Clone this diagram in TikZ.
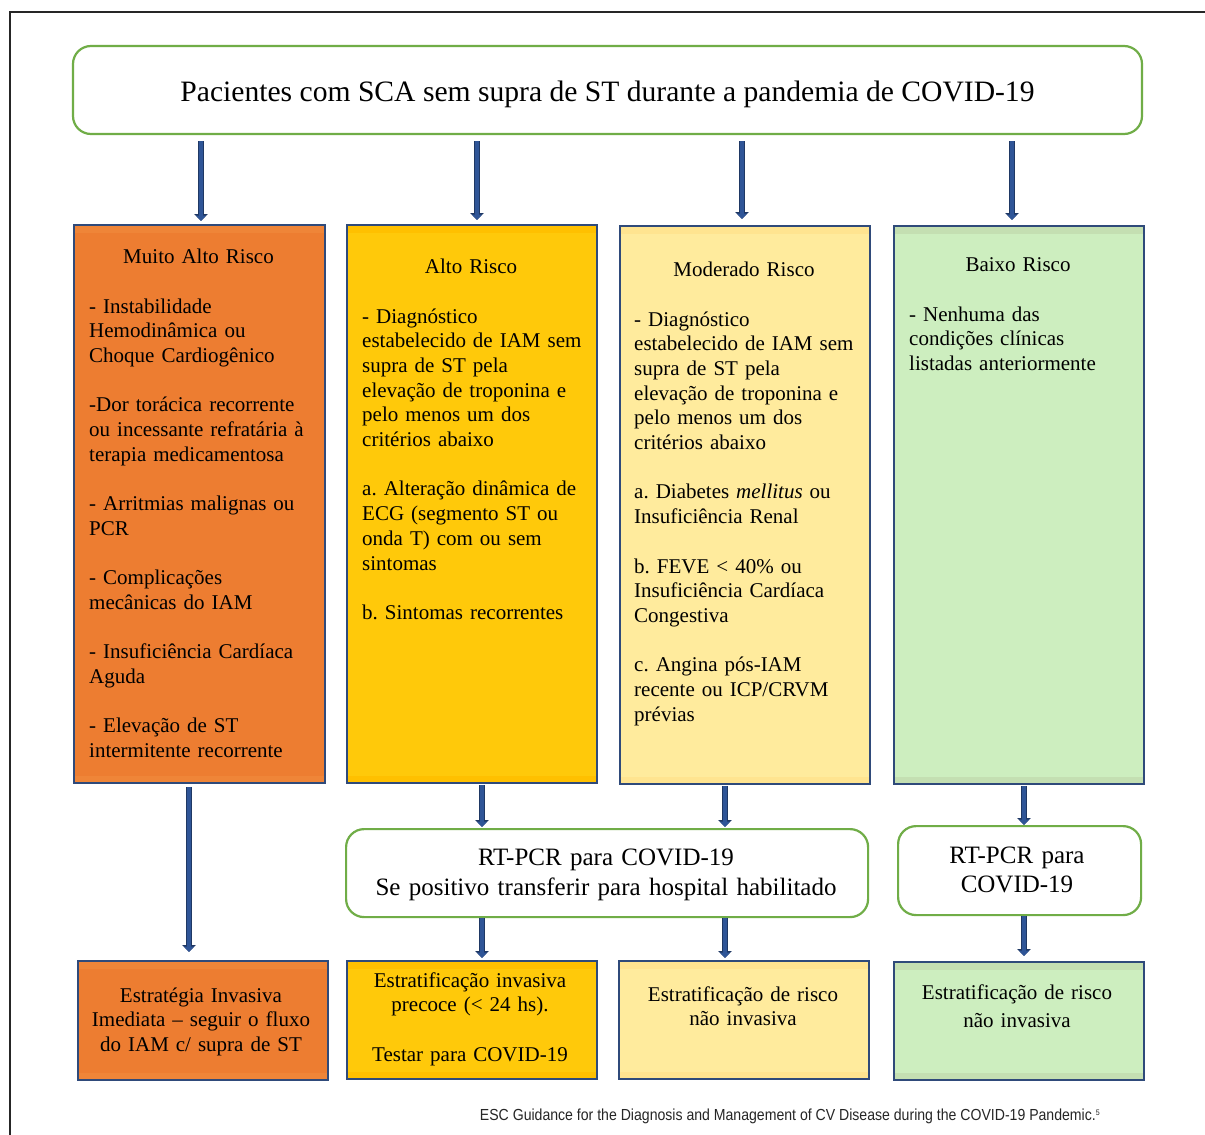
\documentclass[tikz,border=0pt]{standalone}
\usepackage{fontspec}
\setmainfont{Liberation Serif}
\newfontfamily\notefont[FakeStretch=0.88]{Liberation Sans}
\usetikzlibrary{arrows.meta}

\definecolor{frameC}{HTML}{262626}
\definecolor{leafGreen}{HTML}{70AD47}
\definecolor{navyEdge}{HTML}{2F4A7A}
\definecolor{arrowFill}{HTML}{2F5597}
\definecolor{arrowEdge}{HTML}{1F3864}
\definecolor{orangeC}{HTML}{ED7D31}
\definecolor{orangeB}{HTML}{EF8538}
\definecolor{goldC}{HTML}{FFC90A}
\definecolor{goldB}{HTML}{FFC000}
\definecolor{creamC}{HTML}{FFEB9D}
\definecolor{creamB}{HTML}{FFE490}
\definecolor{mintC}{HTML}{CDEEBF}
\definecolor{mintB}{HTML}{C4DFB2}

\begin{document}
\frenchspacing
\begin{tikzpicture}[x=1pt,y=-1pt,
  flowbox/.style={draw=leafGreen, line width=2.2pt, rounded corners=18pt, fill=white, inner sep=0pt},
  riskbox/.style={draw=navyEdge, line width=1.8pt, inner sep=0pt, anchor=north west},
  band/.style={path picture={
      \fill[#1] (path picture bounding box.north west) rectangle ([yshift=-8pt]path picture bounding box.north east);
      \fill[#1] (path picture bounding box.south west) rectangle ([yshift=7pt]path picture bounding box.south east);}},
  body/.style={font=\fontsize{21}{24.7}\selectfont, inner sep=0pt, align=left, anchor=base west},
  mid/.style={font=\fontsize{21}{24.7}\selectfont, inner sep=0pt, align=center, anchor=base},
  big/.style={font=\fontsize{25}{30}\selectfont, inner sep=0pt, align=center, anchor=base},
  flow/.style={draw=arrowFill, line width=3.4pt, -{Triangle[length=5.5pt,width=10pt]},
    preaction={draw=arrowEdge, line width=6pt, -{Triangle[length=7pt,width=13.5pt]}}}
]
\useasboundingbox (0,0) rectangle (1205,1135);
\fill[white] (0,0) rectangle (1205,1135);

% outer frame
\draw[frameC, line width=1.5pt] (10,1140) -- (10,12) -- (1210,12);

% header
\node[flowbox, minimum width=1069pt, minimum height=88pt] (title) at (607.5,90) {};
\node[font=\fontsize{29.6}{34}\selectfont, inner sep=0pt, anchor=base] (titletxt) at (607.5,101)
  {Pacientes com SCA sem supra de ST durante a pandemia de COVID-19};

% risk columns
\node[riskbox, fill=orangeC, band=orangeB, minimum width=251pt, minimum height=558pt] (c1) at (73,224) {};
\node[riskbox, fill=goldC,   band=goldB,   minimum width=250pt, minimum height=558pt] (c2) at (346,224) {};
\node[riskbox, fill=creamC,  band=creamB,  minimum width=250pt, minimum height=558pt] (c3) at (619,225) {};
\node[riskbox, fill=mintC,   band=mintB,   minimum width=250pt, minimum height=558pt] (c4) at (893,225) {};

\node[mid, text width=240pt] (h1) at (198.5,263) {Muito Alto Risco};
\node[body, text width=232pt] (t1) at (89,313) {- Instabilidade\\ Hemodinâmica ou\\ Choque Cardiogênico\\[24.7pt]
  -Dor torácica recorrente\\ ou incessante refratária à\\ terapia medicamentosa\\[24.7pt]
  - Arritmias malignas ou\\ PCR\\[24.7pt]
  - Complicações\\ mecânicas do IAM\\[24.7pt]
  - Insuficiência Cardíaca\\ Aguda\\[24.7pt]
  - Elevação de ST\\ intermitente recorrente};

\node[mid, text width=240pt] (h2) at (471,273) {Alto Risco};
\node[body, text width=232pt] (t2) at (362,323) {- Diagnóstico\\ estabelecido de IAM sem\\ supra de ST pela\\ elevação de troponina e\\ pelo menos um dos\\ critérios abaixo\\[24.7pt]
  a. Alteração dinâmica de\\ ECG (segmento ST ou\\ onda T) com ou sem\\ sintomas\\[24.7pt]
  b. Sintomas recorrentes};

\node[mid, text width=240pt] (h3) at (744,276) {Moderado Risco};
\node[body, text width=232pt] (t3) at (634,326) {- Diagnóstico\\ estabelecido de IAM sem\\ supra de ST pela\\ elevação de troponina e\\ pelo menos um dos\\ critérios abaixo\\[24.7pt]
  a. Diabetes \textit{mellitus} ou\\ Insuficiência Renal\\[24.7pt]
  b. FEVE < 40\% ou\\ Insuficiência Cardíaca\\ Congestiva\\[24.7pt]
  c. Angina pós-IAM\\ recente ou ICP/CRVM\\ prévias};

\node[mid, text width=240pt] (h4) at (1018,271) {Baixo Risco};
\node[body, text width=232pt] (t4) at (909,321) {- Nenhuma das\\ condições clínicas\\ listadas anteriormente};

% RT-PCR boxes
\node[flowbox, minimum width=522pt, minimum height=88pt, anchor=north west] (rt1) at (345,828) {};
\node[big, text width=520pt] (rt1txt) at (606,865) {RT-PCR para COVID-19\\ Se positivo transferir para hospital habilitado};
\node[flowbox, minimum width=243pt, minimum height=89pt, anchor=north west] (rt2) at (897,825) {};
\node[big, text width=240pt, font=\fontsize{25}{29}\selectfont] (rt2txt) at (1017,863) {RT-PCR para\\ COVID-19};

% outcome boxes
\node[riskbox, fill=orangeC, band=orangeB, minimum width=250pt, minimum height=119pt] (b1) at (77,960) {};
\node[riskbox, fill=goldC,   band=goldB,   minimum width=250pt, minimum height=118pt] (b2) at (346,960) {};
\node[riskbox, fill=creamC,  band=creamB,  minimum width=250pt, minimum height=118pt] (b3) at (618,960) {};
\node[riskbox, fill=mintC,   band=mintB,   minimum width=250pt, minimum height=118pt] (b4) at (893,961) {};

\node[mid, text width=245pt] (o1) at (201,1002) {Estratégia Invasiva\\ Imediata – seguir o fluxo\\ do IAM c/ supra de ST};
\node[mid, text width=245pt] (o2) at (470,987) {Estratificação invasiva\\ precoce (< 24 hs).\\[24.7pt] Testar para COVID-19};
\node[mid, text width=245pt] (o3) at (743,1001) {Estratificação de risco\\ não invasiva};
\node[mid, text width=245pt, font=\fontsize{21}{28}\selectfont] (o4) at (1017,999) {Estratificação de risco\\ não invasiva};

% arrow columns
\coordinate (xa) at (201,0);
\coordinate (xb) at (477,0);
\coordinate (xc) at (742,0);
\coordinate (xd) at (1012,0);
\coordinate (xe) at (189,0);
\coordinate (xf) at (482,0);
\coordinate (xg) at (725,0);
\coordinate (xh) at (1024,0);

\draw[flow, shorten <=6pt, shorten >=3pt] (title.south -| xa) -- (c1.north -| xa);
\draw[flow, shorten <=6pt, shorten >=4pt] (title.south -| xb) -- (c2.north -| xb);
\draw[flow, shorten <=6pt, shorten >=6pt] (title.south -| xc) -- (c3.north -| xc);
\draw[flow, shorten <=6pt, shorten >=5pt] (title.south -| xd) -- (c4.north -| xd);

\draw[flow, shorten <=3pt, shorten >=8pt] (c1.south -| xe) -- (b1.north -| xe);
\draw[flow, shorten <=1pt, shorten >=1pt] (c2.south -| xf) -- (rt1.north -| xf);
\draw[flow, shorten <=1pt, shorten >=1pt] (c3.south -| xg) -- (rt1.north -| xg);
\draw[flow, shorten <=1pt, shorten >=0pt] (c4.south -| xh) -- (rt2.north -| xh);

\draw[flow, shorten <=0pt, shorten >=2pt] (rt1.south -| xf) -- (b2.north -| xf);
\draw[flow, shorten <=0pt, shorten >=2pt] (rt1.south -| xg) -- (b3.north -| xg);
\draw[flow, shorten <=0pt, shorten >=5pt] (rt2.south -| xh) -- (b4.north -| xh);

% source note
\node[font=\notefont\fontsize{16}{18}\selectfont, text=frameC, inner sep=0pt, anchor=base east] (note) at (1100,1120)
  {ESC Guidance for the Diagnosis and Management of CV Disease during the COVID-19 Pandemic.\raisebox{5pt}{\fontsize{8}{8}\selectfont 5}};
\end{tikzpicture}
\end{document}
